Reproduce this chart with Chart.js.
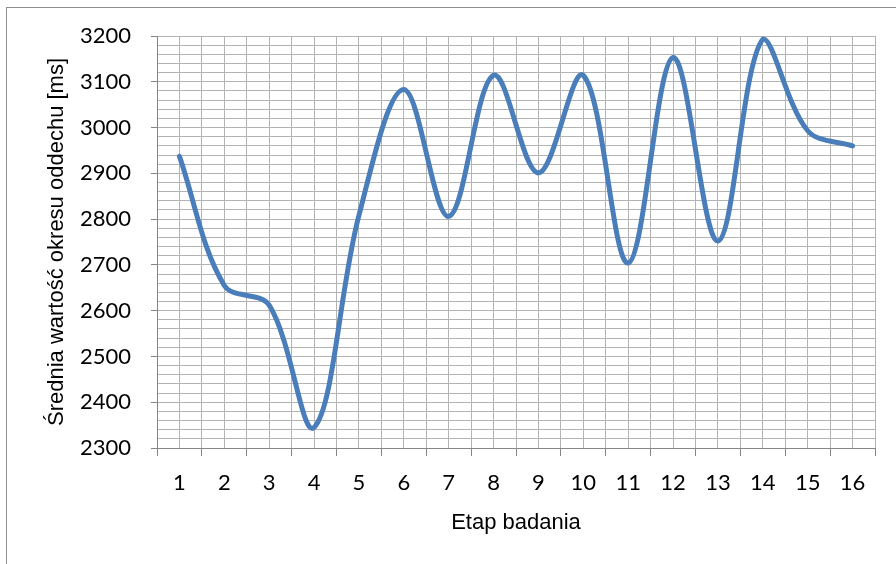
<!DOCTYPE html>
<html>
<head>
<meta charset="utf-8">
<script src="https://cdn.jsdelivr.net/npm/chart.js@4.4.1/dist/chart.umd.min.js"></script>
<style>
html,body{margin:0;padding:0;background:#fff;}
#wrap{position:relative;width:896px;height:564px;overflow:hidden;background:#fff;}
#frame{position:absolute;left:6px;top:7px;width:1000px;height:1000px;border-left:1px solid #8f8f8f;border-top:1px solid #8f8f8f;}
canvas{position:absolute;left:0;top:0;}
</style>
</head>
<body>
<div id="wrap"><div id="frame"></div><canvas id="c" width="896" height="564"></canvas></div>
<script>
// ---- data ----
const categories = ['1','2','3','4','5','6','7','8','9','10','11','12','13','14','15','16'];
const values = [2937, 2655, 2612, 2345, 2808, 3083, 2806, 3114, 2901, 3114, 2704, 3153, 2752, 3193, 2993, 2960];
const yTickLabels = [2300, 2400, 2500, 2600, 2700, 2800, 2900, 3000, 3100, 3200];
const xTitle = 'Etap badania';
const yTitle = 'Średnia wartość okresu oddechu [ms]';

const gridColor = '#b3b3b3';
const axisColor = '#868686';
const tickFont = {family: 'Lato, "Open Sans", sans-serif', size: 22};
const titleFont = {family: '"Liberation Sans", Arial, sans-serif', size: 22};

const points = values.map((v, i) => ({x: Number(categories[i]), y: v}));

new Chart(document.getElementById('c'), {
  type: 'line',
  data: {
    datasets: [{
      data: points,
      borderColor: '#4a7ebb',
      borderWidth: 5,
      pointRadius: 0,
      tension: 0.35,
      borderCapStyle: 'round',
      borderJoinStyle: 'round',
      fill: false,
      clip: false
    }]
  },
  options: {
    responsive: false,
    animation: false,
    events: [],
    layout: {padding: {left: 0, top: 36, right: 21, bottom: 0}},
    plugins: {legend: {display: false}, tooltip: {enabled: false}},
    scales: {
      x: {
        type: 'linear',
        min: 0.5,
        max: categories.length + 0.5,
        afterFit: (s) => { s.height = 116; },
        ticks: {
          stepSize: 0.5,
          autoSkip: false,
          maxRotation: 0,
          minRotation: 0,
          padding: 14,
          color: '#000',
          font: tickFont,
          callback: (v) => Number.isInteger(v) ? categories[v - 1] : ''
        },
        grid: {
          color: gridColor,
          lineWidth: 1,
          tickLength: 8,
          tickColor: (ctx) => (ctx.tick && !Number.isInteger(ctx.tick.value)) ? axisColor : 'rgba(0,0,0,0)'
        },
        border: {display: true, color: axisColor, width: 1},
        title: {display: true, text: xTitle, color: '#000', font: titleFont, padding: {top: 0, bottom: 28}}
      },
      y: {
        type: 'linear',
        min: yTickLabels[0],
        max: yTickLabels[yTickLabels.length - 1],
        afterFit: (s) => { s.width = 157; },
        ticks: {
          stepSize: 20,
          autoSkip: false,
          padding: 20,
          color: '#000',
          font: tickFont,
          callback: (v) => yTickLabels.includes(v) ? String(v) : ''
        },
        grid: {
          color: gridColor,
          lineWidth: 1,
          tickLength: 6,
          tickColor: (ctx) => (ctx.tick && yTickLabels.includes(ctx.tick.value)) ? axisColor : 'rgba(0,0,0,0)'
        },
        border: {display: true, color: axisColor, width: 1},
        title: {display: true, text: yTitle, color: '#000', font: titleFont, padding: {top: 44, bottom: 0}}
      }
    }
  }
});
</script>
</body>
</html>
